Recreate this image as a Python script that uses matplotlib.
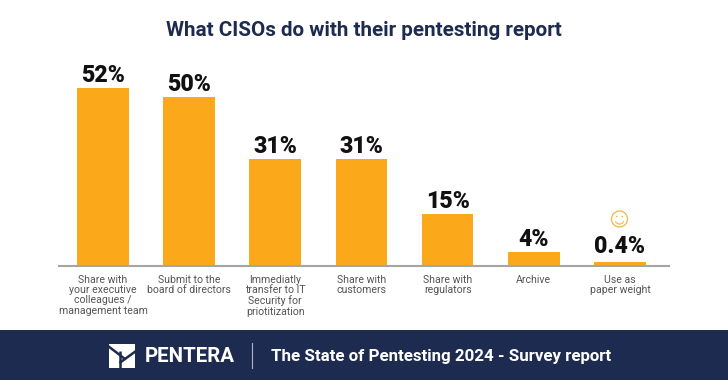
import matplotlib
matplotlib.use("Agg")
import matplotlib.pyplot as plt
from matplotlib.patches import Rectangle, Circle, Arc

categories = ["Share with\nyour executive\ncolleagues /\nmanagement team",
              "Submit to the\nboard of directors",
              "Immediatly\ntransfer to IT\nSecurity for\npriotitization",
              "Share with\ncustomers",
              "Share with\nregulators",
              "Archive",
              "Use as\npaper weight"]
bar_heights = [52, 49.5, 31.2, 31.2, 15, 4, 1]
value_labels = ["52%", "50%", "31%", "31%", "15%", "4%", "0.4%"]
title = "What CISOs do with their pentesting report"
footer_brand = "PENTERA"
footer_text = "The State of Pentesting 2024 - Survey report"

ORANGE = "#FBA91B"
NAVY = "#1D2B50"
W, H = 728, 380
plt.rcParams["font.family"] = ["Roboto", "DejaVu Sans"]

fig = plt.figure(figsize=(W / 100, H / 100), dpi=100, facecolor="white")

bg = fig.add_axes([0, 0, 1, 1], zorder=0)
bg.set_xlim(0, W); bg.set_ylim(H, 0); bg.axis("off")
bg.add_patch(Rectangle((0, 330), W, 50, fc=NAVY, ec="none"))
bg.plot([251.5, 251.5], [343, 368], color="#AEB4C4", lw=0.8)

# Logo: white square cut by navy strokes
bg.add_patch(Rectangle((109, 344), 26, 24, fc="white", ec="none"))
bg.plot([108, 125], [346, 359], color=NAVY, lw=1.8, solid_capstyle="butt")
bg.plot([119.5, 119.5], [351, 369], color=NAVY, lw=1.8, solid_capstyle="butt")
bg.plot([119.5, 136], [363, 351], color=NAVY, lw=1.8, solid_capstyle="butt")

bg.text(190, 356, footer_brand, color="white", fontsize=14.8, fontweight="bold",
        ha="center", va="center")
bg.text(441.5, 356, footer_text, color="white", fontsize=12.2, fontweight="bold",
        ha="center", va="center")
bg.text(363.5, 31, title, color=NAVY, fontsize=14.9, fontweight="bold",
        ha="center", va="center")

# Smiley
cx, cy = 619.5, 219
bg.add_patch(Circle((cx, cy), 8, fc="none", ec="#F2B544", lw=0.9))
bg.add_patch(Arc((cx, cy + 0.5), 9, 9, theta1=25, theta2=155, ec="#F2B544", lw=0.8))
bg.add_patch(Circle((cx - 2.7, cy - 2.5), 0.8, fc="#F2B544", ec="none"))
bg.add_patch(Circle((cx + 2.7, cy - 2.5), 0.8, fc="#F2B544", ec="none"))

ax = fig.add_axes([59 / W, (H - 265.5) / H, 610 / W, 200 / H], zorder=1)
ax.patch.set_alpha(0)
x = list(range(len(categories)))
ax.bar(x, bar_heights, width=0.6, color=ORANGE, edgecolor="none")
ax.set_xlim(-0.51, 6.57)
ax.set_ylim(0, 200 / 3.41)
for s in ["top", "left", "right"]:
    ax.spines[s].set_visible(False)
ax.spines["bottom"].set_color("#A5A5A5")
ax.spines["bottom"].set_linewidth(1.5)
ax.set_yticks([])
ax.set_xticks(x)
ax.set_xticklabels(categories, fontsize=7.6, color="#555555", linespacing=1.05, va="top")
ax.tick_params(axis="x", length=0, pad=6.5)
for i, (xi, h, lab) in enumerate(zip(x, bar_heights, value_labels)):
    off = 6.2 if i == len(x) - 1 else 4.4
    ax.annotate(lab, (xi, h), xytext=(0, off), textcoords="offset points", ha="center",
                va="baseline", fontsize=16.7, fontweight=900, color="#111111")

fig.savefig("out.png", dpi=100)
